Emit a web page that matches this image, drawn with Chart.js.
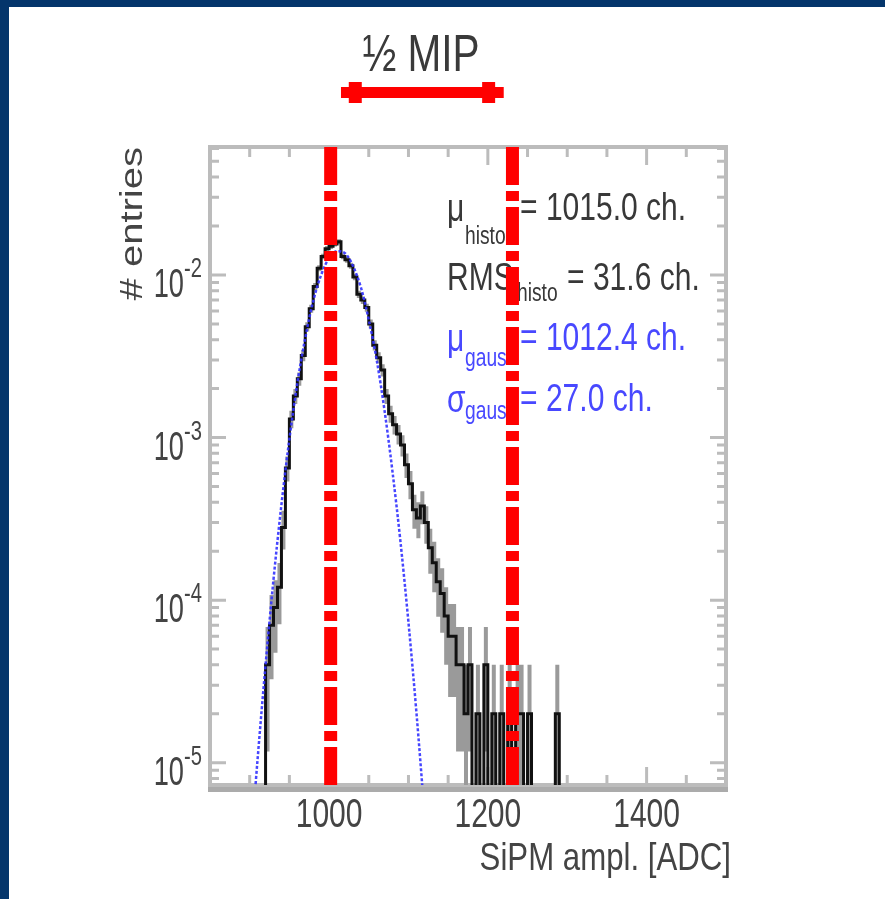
<!DOCTYPE html>
<html>
<head>
<meta charset="utf-8">
<script src="https://cdn.jsdelivr.net/npm/chart.js@4.4.0/dist/chart.umd.min.js"></script>
<style>
    html, body { margin: 0; padding: 0; background: #fff; }
    canvas { display: block; }
</style>
</head>
<body>
<canvas id="c" width="885" height="899"></canvas>
<script>
// SiPM amplitude histogram, 5 ADC wide bins starting at 915 (fraction of entries per bin)
const binStart = 915;
const binWidth = 5;
const entries = [
    0, 4e-5, 7e-5, 9e-5, 1.2e-4, 2.8e-4, 6.5e-4, 1.3e-3, 1.8e-3, 2.3e-3,
    3.2e-3, 4.8e-3, 6.2e-3, 8.5e-3, 1.1e-2, 1.3e-2, 1.45e-2, 1.5e-2, 1.55e-2, 1.6e-2,
    1.3e-2, 1.24e-2, 1.14e-2, 9.7e-3, 7.6e-3, 7.0e-3, 6.3e-3, 5.0e-3, 3.7e-3, 3.1e-3,
    2.6e-3, 1.8e-3, 1.4e-3, 1.2e-3, 1.05e-3, 9e-4, 6.8e-4, 5.2e-4, 3.6e-4, 3.2e-4,
    3.8e-4, 3.0e-4, 2.1e-4, 1.7e-4, 1.3e-4, 1.1e-4, 8e-5, 6e-5, 6e-5, 4e-5,
    4e-5, 2e-5, 4e-5, 0, 2e-5, 0, 4e-5, 0, 2e-5, 0,
    2e-5, 0, 2e-5, 0, 2e-5, 2e-5, 0, 2e-5, 0, 0,
    0, 0, 0, 0, 2e-5
];
const entryUnit = 2e-5; // one entry

// gauss fit
const gaussX = [905, 910, 920, 930, 940, 950, 960, 970, 980, 990, 1000, 1010,
    1020, 1030, 1040, 1050, 1060, 1070, 1080, 1090, 1100, 1110, 1120];
const gaussY = [5.2e-6, 1.06e-5, 4.0e-5, 1.34e-4, 3.87e-4, 9.8e-4, 2.15e-3, 4.1e-3, 6.9e-3, 1.0e-2, 1.27e-2, 1.40e-2,
    1.36e-2, 1.14e-2, 8.4e-3, 5.3e-3, 3.0e-3, 1.45e-3, 6.1e-4, 2.27e-4, 7.3e-5, 2.05e-5, 5.0e-6];

const cutLines = [1002, 1231];
const mipBar = [1015, 1220];
const mipCaps = [1033, 1201];

const xMajorTicks = [1000, 1200, 1400];
const xMinorTicks = [900, 950, 1050, 1100, 1150, 1250, 1300, 1350, 1450];
const yDecades = [-5, -4, -3, -2];
const yMinorDecades = [-6, -5, -4, -3, -2];
const yMinorMantissa = [2, 3, 4, 5, 6, 7, 8, 9];

const statRows = [
    { sym: 'μ', sub: 'histo', val: '= 1015.0 ch.', blue: false },
    { sym: 'RMS', sub: 'histo', val: '= 31.6 ch.', blue: false },
    { sym: 'μ', sub: 'gaus', val: '= 1012.4 ch.', blue: true },
    { sym: 'σ', sub: 'gaus', val: '= 27.0 ch.', blue: true }
];

const xMin = 850, xMax = 1500;
const yMin = 7.3e-6, yMax = 0.0612;
const FLOOR = 1e-7;

const histPoints = entries.map(function (v, i) {
    return { x: binStart + i * binWidth, y: v > 0 ? v : FLOOR };
});
histPoints.push({ x: binStart + entries.length * binWidth, y: FLOOR });

// poisson error bars
const errPoints = [];
entries.forEach(function (v, i) {
    if (v <= 0) return;
    const c = binStart + (i + 0.5) * binWidth;
    const e = Math.sqrt(v * entryUnit);
    const lo = (v - e) > 1e-7 ? v - e : FLOOR;
    errPoints.push({ x: c, y: lo }, { x: c, y: v + e }, { x: c, y: null });
});

const gaussPoints = gaussX.map(function (x, i) { return { x: x, y: gaussY[i] }; });

const FONT = '"Liberation Sans", Arial, sans-serif';
const DARK = '#383838';
const BLUE = '#4848ff';

function txt(ctx, s, x, y, size, color, align, sx) {
    ctx.save();
    ctx.font = size + 'px ' + FONT;
    ctx.fillStyle = color;
    ctx.textAlign = align || 'left';
    ctx.textBaseline = 'alphabetic';
    ctx.translate(x, y);
    ctx.scale(sx || 0.77, 1);
    ctx.fillText(s, 0, 0);
    ctx.restore();
}

const rootStyle = {
    id: 'rootStyle',
    beforeDraw(chart) {
        const ctx = chart.ctx;
        ctx.save();
        ctx.fillStyle = '#fff';
        ctx.fillRect(0, 0, chart.width, chart.height);
        ctx.fillStyle = '#04356b';
        ctx.fillRect(0, 0, chart.width, 7);
        ctx.fillRect(0, 0, 9, chart.height);
        ctx.restore();
    },
    beforeDatasetsDraw(chart) {
        const ctx = chart.ctx;
        const a = chart.chartArea;
        const xs = chart.scales.x, ys = chart.scales.y;
        ctx.save();
        // frame
        ctx.strokeStyle = '#bcbcbc';
        ctx.lineWidth = 4;
        ctx.strokeRect(a.left, a.top, a.right - a.left, a.bottom - a.top);
        ctx.fillStyle = '#ababab';
        ctx.fillRect(a.left - 2, a.bottom + 2, a.right - a.left + 4, 5);

        // ticks
        ctx.lineWidth = 3;
        function xtick(v, len) {
            const px = xs.getPixelForValue(v);
            ctx.beginPath();
            ctx.moveTo(px, a.bottom); ctx.lineTo(px, a.bottom - len);
            ctx.moveTo(px, a.top); ctx.lineTo(px, a.top + len);
            ctx.stroke();
        }
        function ytick(v, len) {
            const py = ys.getPixelForValue(v);
            ctx.beginPath();
            ctx.moveTo(a.left, py); ctx.lineTo(a.left + len, py);
            ctx.moveTo(a.right, py); ctx.lineTo(a.right - len, py);
            ctx.stroke();
        }
        xMajorTicks.forEach(function (v) { xtick(v, 18); });
        xMinorTicks.forEach(function (v) { xtick(v, 10); });
        yDecades.forEach(function (d) { ytick(Math.pow(10, d), 16); });
        yMinorDecades.forEach(function (d) {
            yMinorMantissa.forEach(function (m) {
                const v = m * Math.pow(10, d);
                if (v > yMin && v < yMax) ytick(v, 9);
            });
        });

        // statistics box (red cut line is drawn over it)
        const base = [220, 290, 350, 411];
        const subBase = [244, 301, 366, 419];
        const subX = [465, 517, 465, 465];
        const valX = [520, 567, 520, 520];
        statRows.forEach(function (r, i) {
            const col = r.blue ? BLUE : DARK;
            txt(ctx, r.sym, 447, base[i] + (r.sym === 'RMS' ? 0 : 1), 39, col, 'left', 0.77);
            txt(ctx, r.sub, subX[i], subBase[i], 25, col, 'left', 0.77);
            txt(ctx, r.val, valX[i], base[i], 39, col, 'left', 0.77);
        });
        ctx.restore();
    },
    afterDraw(chart) {
        const ctx = chart.ctx;
        const a = chart.chartArea;
        const xs = chart.scales.x, ys = chart.scales.y;

        // x tick labels
        xMajorTicks.forEach(function (v) {
            txt(ctx, String(v), xs.getPixelForValue(v), 827, 40, '#444', 'center', 0.75);
        });
        // y tick labels 10^n
        yDecades.forEach(function (d) {
            const py = ys.getPixelForValue(Math.pow(10, d));
            txt(ctx, '10', 184, py + 22, 40, '#444', 'right', 0.68);
            txt(ctx, '-' + Math.abs(d), 184, py + 2, 28, '#444', 'left', 0.72);
        });
        // axis titles
        txt(ctx, 'SiPM ampl. [ADC]', 731, 870, 39, '#444', 'right', 0.8);
        ctx.save();
        ctx.font = '40px ' + FONT;
        ctx.fillStyle = '#444';
        ctx.textAlign = 'right';
        ctx.translate(142, a.top);
        ctx.scale(0.78, 1);
        ctx.rotate(-Math.PI / 2);
        ctx.fillText('# entries', 0, 0);
        ctx.restore();

        // 1/2 MIP marker
        txt(ctx, '½ MIP', 421, 71, 52, '#3a3a3a', 'center', 0.78);
        ctx.save();
        ctx.fillStyle = '#ff0000';
        const b1 = xs.getPixelForValue(mipBar[0]), b2 = xs.getPixelForValue(mipBar[1]);
        ctx.fillRect(b1, 87, b2 - b1, 11);
        mipCaps.forEach(function (v) {
            const px = xs.getPixelForValue(v);
            ctx.fillRect(px - 6.5, 82, 13, 21);
        });
        ctx.restore();
    }
};

new Chart(document.getElementById('c'), {
    type: 'line',
    data: {
        datasets: [
            {
                data: [{ x: cutLines[0], y: yMax }, { x: cutLines[0], y: yMin }],
                borderColor: '#ff0000',
                borderWidth: 13,
                borderDash: [38, 6, 10, 6],
                clip: 0,
                order: 0
            },
            {
                data: [{ x: cutLines[1], y: yMax }, { x: cutLines[1], y: yMin }],
                borderColor: '#ff0000',
                borderWidth: 13,
                borderDash: [38, 6, 10, 6],
                clip: 0,
                order: 0
            },
            {
                data: gaussPoints,
                borderColor: 'rgba(50, 50, 255, 0.9)',
                borderWidth: 2.5,
                borderDash: [3, 2],
                cubicInterpolationMode: 'monotone',
                clip: 0,
                order: 1
            },
            {
                data: histPoints,
                borderColor: '#111',
                borderWidth: 3,
                stepped: 'before',
                clip: 0,
                order: 2
            },
            {
                data: errPoints,
                borderColor: '#9a9a9a',
                borderWidth: 4,
                spanGaps: false,
                clip: 0,
                order: 3
            }
        ]
    },
    options: {
        responsive: false,
        animation: false,
        layout: { padding: { left: 210, right: 159, top: 147, bottom: 114 } },
        elements: { point: { radius: 0 } },
        scales: {
            x: { type: 'linear', min: xMin, max: xMax, display: false },
            y: { type: 'logarithmic', min: yMin, max: yMax, display: false }
        },
        plugins: {
            legend: { display: false },
            tooltip: { enabled: false }
        }
    },
    plugins: [rootStyle]
});
</script>
</body>
</html>
